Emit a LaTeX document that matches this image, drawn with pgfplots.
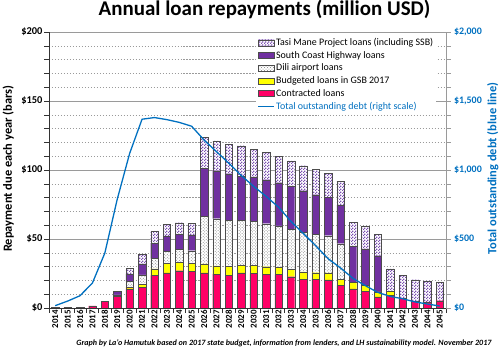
\documentclass[border=0pt]{standalone}
\usepackage{pgfplots}
\pgfplotsset{compat=1.18}
\usepackage{pgfplotstable}
\usetikzlibrary{patterns}
\usepackage{fontspec}
\setmainfont{Carlito}
\definecolor{contr}{HTML}{FF0066}
\definecolor{budg}{HTML}{FFFF00}
\definecolor{sch}{HTML}{7030A0}
\definecolor{tasi}{HTML}{7A4FB0}
\definecolor{dili}{HTML}{808080}
\definecolor{lineblue}{HTML}{0070C0}
\definecolor{gridc}{HTML}{9A9A9A}

\pgfdeclarepatternformonly{finechecker}{\pgfpointorigin}{\pgfpoint{3bp}{3bp}}{\pgfpoint{3bp}{3bp}}%
{\pgfpathrectangle{\pgfpointorigin}{\pgfpoint{1.5bp}{1.5bp}}%
 \pgfpathrectangle{\pgfpoint{1.5bp}{1.5bp}}{\pgfpoint{1.5bp}{1.5bp}}\pgfusepath{fill}}

\pgfplotstableread{
year C B D S T debt
2014 0.5 0 0 0 0 17
2015 0.4 0 0 0 0 50
2016 0.5 0 0 0 0 89
2017 1.5 0 0 0 0 181
2018 5.0 0 0 0 0 398
2019 8.5 0.5 0.5 2.5 0.3 788
2020 13.9 1.1 4.3 5.3 4.2 1120
2021 15.0 2.2 6.8 8.0 7.0 1368
2022 23.7 4.6 7.7 11.0 8.8 1380
2023 25.4 7.2 8.7 10.9 8.4 1365
2024 27.0 6.3 9.4 10.9 8.2 1345
2025 26.6 6.0 8.9 11.4 8.4 1317
2026 25.4 6.5 34.5 34.8 22.7 1217
2027 24.6 6.0 34.1 34.8 21.7 1133
2028 23.9 6.3 33.5 33.6 21.3 1049
2029 25.4 5.7 32.2 32.1 22.2 960
2030 25.1 5.8 31.9 32.2 20.2 881
2031 24.4 5.5 31.2 31.9 20.0 809
2032 24.4 5.0 30.2 31.2 19.3 731
2033 22.7 5.3 29.2 31.0 18.5 628
2034 21.0 5.1 28.9 30.0 18.1 540
2035 21.0 4.6 28.0 28.5 18.6 451
2036 20.3 5.1 27.0 27.8 17.6 357
2037 16.2 4.8 25.6 28.0 17.1 290
2038 13.8 5.0 0 25.9 17.6 215
2039 12.0 4.4 0 26.4 16.4 162
2040 8.0 3.6 0 26.3 15.7 113
2041 9.2 2.8 0 0 16.3 84
2042 7.0 0 0 0 16.7 67
2043 4.8 0 0 0 15.7 44
2044 4.4 0 0 0 15.4 29
2045 5.3 0 0 0 13.7 14
}\loandata

\pgfplotsset{
  barimg/.style={legend image code/.code={\draw[##1] (0bp,-3bp) rectangle (16bp,3bp);}},
  lineimg/.style={legend image code/.code={\draw[##1] (0bp,0bp) -- (16bp,0bp);}},
}

\begin{document}
\begin{tikzpicture}
\path[use as bounding box] (-49bp,-42bp) rectangle (451bp,308bp);
\begin{axis}[
  scale only axis, width=397bp, height=276bp,
  xmin=2013.5, xmax=2045.5, ymin=0, ymax=200,
  ybar stacked, bar width=7.5bp,
  axis y line*=left, axis x line*=bottom,
  axis line style={black!80, line width=0.6pt},
  y axis line style={-}, x axis line style={-},
  tick align=outside,
  ytick={0,50,100,150,200}, minor ytick={10,20,30,40,60,70,80,90,110,120,130,140,160,170,180,190},
  yticklabels={\$0,\$50,\$100,\$150,\$200},
  yticklabel style={font=\bfseries\fontsize{10.5}{12}\selectfont, xshift=1.5bp},
  major tick length=4.5bp, minor tick length=4.5bp,
  tick style={black!80, line width=0.5pt},
  ymajorgrids, yminorgrids,
  major grid style={gridc, line width=0.6pt},
  minor grid style={gridc, dash pattern=on 1.5pt off 1.5pt, line width=0.6pt},
  xtick={2013.5,2014.5,...,2045.5}, xticklabels={},
  extra x ticks={2014,2015,...,2045},
  extra x tick labels={2014,2015,2016,2017,2018,2019,2020,2021,2022,2023,2024,2025,2026,2027,2028,2029,2030,2031,2032,2033,2034,2035,2036,2037,2038,2039,2040,2041,2042,2043,2044,2045},
  extra x tick style={major tick length=0pt},
  xticklabel style={font=\bfseries\fontsize{9}{9}\selectfont, rotate=90, anchor=east, inner xsep=2bp},
  ylabel={\textbf{Repayment due each year (bars)}},
  ylabel style={font=\fontsize{12.5}{14}\selectfont, at={(rel axis cs:-0.103,0.505)}, anchor=center},
  title={\textbf{Annual loan repayments (million USD)}},
  title style={font=\fontsize{21}{24}\selectfont, at={(rel axis cs:0.5,1)}, anchor=base, yshift=11bp, xshift=17bp},
  legend style={at={(rel axis cs:0.522,0.985)}, anchor=north west, draw=none, fill=white,
     font=\fontsize{10}{11}\selectfont, row sep=2.2bp, inner sep=1bp,
     nodes={inner xsep=1.5bp, inner ysep=1bp}},
  legend cell align=left,
]
\addplot[fill=contr, draw=black!70, line width=0.3pt, forget plot] table[x=year,y=C]{\loandata};
\addplot[fill=budg, draw=black!70, line width=0.3pt, forget plot] table[x=year,y=B]{\loandata};
\addplot[fill=white, draw=black!70, line width=0.3pt, postaction={pattern=crosshatch dots, pattern color=dili}, forget plot] table[x=year,y=D]{\loandata};
\addplot[fill=sch, draw=black!70, line width=0.3pt, forget plot] table[x=year,y=S]{\loandata};
\addplot[fill=white, draw=black!70, line width=0.3pt, postaction={pattern=finechecker, pattern color=tasi}, forget plot] table[x=year,y=T]{\loandata};

\addlegendimage{barimg, fill=white, draw=black!70, postaction={pattern=finechecker, pattern color=tasi}}
\addlegendentry{Tasi Mane Project loans (including SSB)}
\addlegendimage{barimg, fill=sch, draw=black!70}
\addlegendentry{South Coast Highway loans}
\addlegendimage{barimg, fill=white, draw=black!70, postaction={pattern=crosshatch dots, pattern color=dili}}
\addlegendentry{Dili airport loans}
\addlegendimage{barimg, fill=budg, draw=black!70}
\addlegendentry{Budgeted loans in GSB 2017}
\addlegendimage{barimg, fill=contr, draw=black!70}
\addlegendentry{Contracted loans}
\addlegendimage{lineimg, draw=lineblue, line width=1.2pt}
\addlegendentry{\textcolor{lineblue}{Total outstanding debt (right scale)}}
\end{axis}

\begin{axis}[
  scale only axis, width=397bp, height=276bp,
  xmin=2013.5, xmax=2045.5, ymin=0, ymax=2000,
  axis y line*=right, axis x line=none,
  axis line style={gridc, line width=0.6pt}, y axis line style={-},
  tick align=outside,
  ytick={0,500,1000,1500,2000},
  minor ytick={100,200,300,400,600,700,800,900,1100,1200,1300,1400,1600,1700,1800,1900},
  yticklabels={\$0,\$500,\$1{,}000,\$1{,}500,\$2{,}000},
  yticklabel style={font=\bfseries\fontsize{10}{12}\selectfont, text=lineblue, xshift=0bp},
  major tick length=4.5bp, minor tick length=4.5bp,
  tick style={gridc, line width=0.5pt},
  ylabel={\textbf{Total outstanding debt (blue line)}},
  ylabel style={font=\fontsize{12.5}{14}\selectfont, text=lineblue, at={(rel axis cs:1.118,0.505)}, anchor=center},
]
\addplot[lineblue, line width=1.3pt, mark=none] table[x=year,y=debt]{\loandata};
\end{axis}
\node[anchor=base east, font=\bfseries\itshape\fontsize{8.1}{10}\selectfont] at (446bp,-37.5bp)
  {Graph by La'o Hamutuk based on 2017 state budget, information from lenders, and LH sustainability model. November 2017};
\end{tikzpicture}
\end{document}
